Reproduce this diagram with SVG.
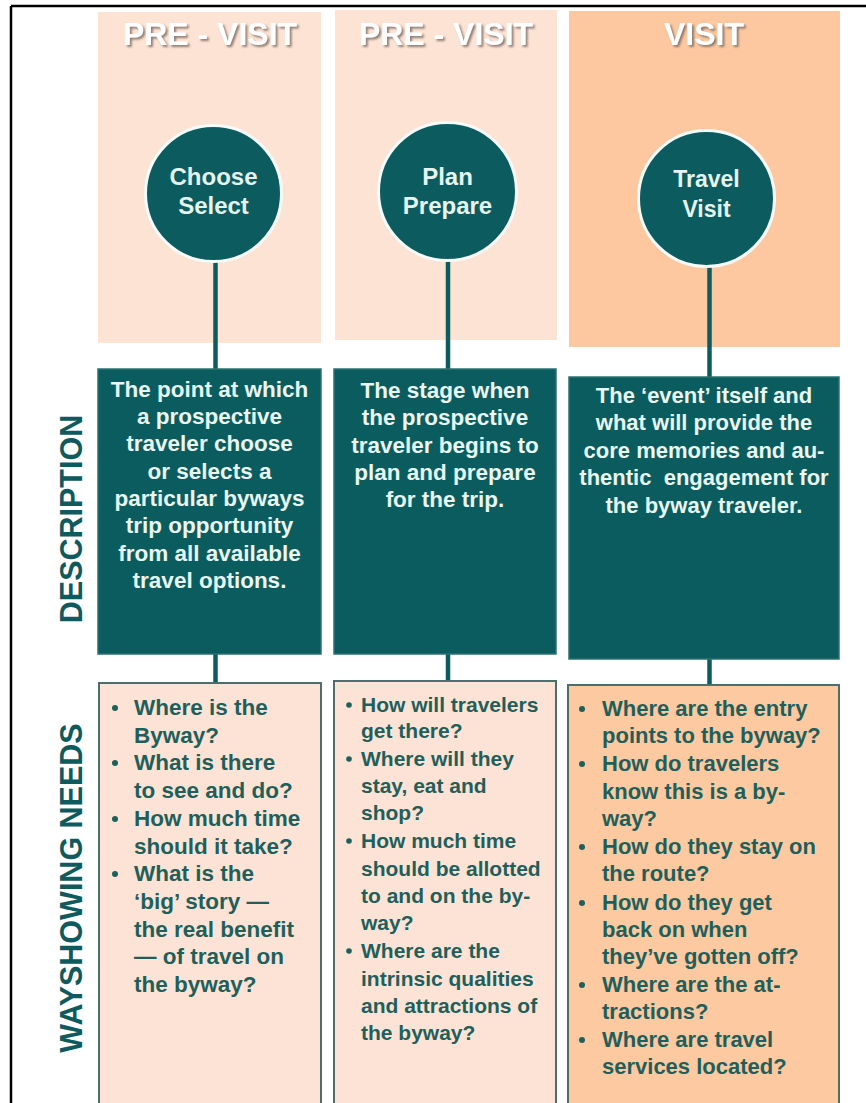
<svg xmlns="http://www.w3.org/2000/svg" width="866" height="1103" viewBox="0 0 866 1103">
<defs>
<style>
.frame{stroke:#000;stroke-width:2.5;fill:none}
.col-light{fill:#FDE3D4}
.col-dark{fill:#FDC8A0}
.hdr{font-family:"Liberation Sans",Arial,sans-serif;font-weight:bold;font-size:32px;fill:#fff;text-anchor:middle}
.circ{fill:#0C5B5E;stroke:#F4FBF8;stroke-width:3}
.ctext{font-family:"Liberation Sans",Arial,sans-serif;font-weight:bold;font-size:24px;fill:#E6F4EF;text-anchor:middle}
.desc{fill:#0B5C5F;stroke:#2C7272;stroke-width:1.5}
.dtext{font-family:"Liberation Sans",Arial,sans-serif;font-weight:bold;font-size:22.5px;fill:#E9F6F1;text-anchor:middle}
.way-light{fill:#FDE3D5;stroke:#4D6F6B;stroke-width:2}
.way-dark{fill:#FDC9A0;stroke:#4D6F6B;stroke-width:2}
.wtext{font-family:"Liberation Sans",Arial,sans-serif;font-weight:bold;fill:#1F5F5B}
.bul{fill:#1F5F5B}
.side{font-family:"Liberation Sans",Arial,sans-serif;font-weight:bold;font-size:30.5px;fill:#0F5A5C;text-anchor:middle}
.conn{stroke:#0C5B5E;stroke-width:4.5;fill:none}
</style>
<filter id="emboss" x="-10%" y="-30%" width="130%" height="180%">
<feDropShadow dx="2" dy="2" stdDeviation="1" flood-color="#7d6e66" flood-opacity="0.85"/>
</filter>
</defs>

<!-- frame -->
<g id="frame">
<line class="frame" x1="11" y1="6" x2="866" y2="6"/>
<line class="frame" x1="11" y1="6" x2="11" y2="1103"/>
</g>

<!-- stage columns -->
<g id="col-previsit-1">
<rect class="col-light" x="98" y="12" width="223" height="331"/>
<text class="hdr" x="210" y="45" filter="url(#emboss)">PRE - VISIT</text>
</g>
<g id="col-previsit-2">
<rect class="col-light" x="335" y="10" width="222" height="330"/>
<text class="hdr" x="446" y="45" filter="url(#emboss)">PRE - VISIT</text>
</g>
<g id="col-visit">
<rect class="col-dark" x="569" y="11" width="271" height="336"/>
<text class="hdr" x="704" y="45" filter="url(#emboss)">VISIT</text>
</g>

<!-- side labels -->
<g id="label-description">
<text class="side" transform="translate(82,519) rotate(-90)">DESCRIPTION</text>
</g>
<g id="label-wayshowing">
<text class="side" transform="translate(82,888) rotate(-90)">WAYSHOWING NEEDS</text>
</g>

<!-- connectors -->
<g id="connectors">
<line class="conn" x1="215.5" y1="262" x2="215.5" y2="369"/>
<line class="conn" x1="448" y1="261" x2="448" y2="369"/>
<line class="conn" x1="709.5" y1="267" x2="709.5" y2="377"/>
<line class="conn" x1="215.5" y1="654" x2="215.5" y2="683"/>
<line class="conn" x1="448" y1="654" x2="448" y2="681"/>
<line class="conn" x1="709.5" y1="659" x2="709.5" y2="685"/>
</g>

<!-- circle nodes -->
<g id="node-choose-select">
<circle class="circ" cx="213.5" cy="193.5" r="68"/>
<text class="ctext" x="213.5" y="185">Choose</text>
<text class="ctext" x="213.5" y="214">Select</text>
</g>
<g id="node-plan-prepare">
<circle class="circ" cx="447.5" cy="191.5" r="69"/>
<text class="ctext" x="447.5" y="185">Plan</text>
<text class="ctext" x="447.5" y="214">Prepare</text>
</g>
<g id="node-travel-visit">
<circle class="circ" cx="706.5" cy="198.5" r="68"/>
<text class="ctext" x="706.5" y="187" style="font-size:23px">Travel</text>
<text class="ctext" x="706.5" y="217" style="font-size:23px">Visit</text>
</g>

<!-- description boxes -->
<g id="desc-choose">
<rect class="desc" x="98" y="369" width="223" height="285"/>
<text class="dtext" x="209.5" y="397">The point at which</text>
<text class="dtext" x="209.5" y="424">a prospective</text>
<text class="dtext" x="209.5" y="451">traveler choose</text>
<text class="dtext" x="209.5" y="479">or selects a</text>
<text class="dtext" x="209.5" y="506">particular byways</text>
<text class="dtext" x="209.5" y="533">trip opportunity</text>
<text class="dtext" x="209.5" y="561">from all available</text>
<text class="dtext" x="209.5" y="588">travel options.</text>
</g>
<g id="desc-plan">
<rect class="desc" x="334" y="369" width="222" height="285"/>
<text class="dtext" x="445" y="398">The stage when</text>
<text class="dtext" x="445" y="425">the prospective</text>
<text class="dtext" x="445" y="453">traveler begins to</text>
<text class="dtext" x="445" y="480">plan and prepare</text>
<text class="dtext" x="445" y="507">for the trip.</text>
</g>
<g id="desc-travel">
<rect class="desc" x="569" y="377" width="270" height="282"/>
<text class="dtext" x="704" y="403" style="font-size:22px">The ‘event’ itself and</text>
<text class="dtext" x="704" y="430" style="font-size:22px">what will provide the</text>
<text class="dtext" x="704" y="458" style="font-size:22px">core memories and au-</text>
<text class="dtext" x="704" y="485" style="font-size:22px;white-space:pre" xml:space="preserve">thentic  engagement for</text>
<text class="dtext" x="704" y="513" style="font-size:22px">the byway traveler.</text>
</g>

<!-- wayshowing boxes -->
<g id="needs-choose">
<rect class="way-light" x="99" y="683" width="222" height="440"/>
<g class="wtext" style="font-size:22.5px">
<text x="134" y="715">Where is the</text>
<text x="134" y="743">Byway?</text>
<text x="134" y="770">What is there</text>
<text x="134" y="798">to see and do?</text>
<text x="134" y="826">How much time</text>
<text x="134" y="854">should it take?</text>
<text x="134" y="881">What is the</text>
<text x="134" y="909">‘big’ story —</text>
<text x="134" y="937">the real benefit</text>
<text x="134" y="964">— of travel on</text>
<text x="134" y="992">the byway?</text>
</g>
<circle class="bul" cx="115" cy="708" r="3"/>
<circle class="bul" cx="115" cy="763" r="3"/>
<circle class="bul" cx="115" cy="819" r="3"/>
<circle class="bul" cx="115" cy="874" r="3"/>
</g>
<g id="needs-plan">
<rect class="way-light" x="334" y="681" width="222" height="440"/>
<g class="wtext" style="font-size:21px">
<text x="361" y="712">How will travelers</text>
<text x="361" y="738">get there?</text>
<text x="361" y="766">Where will they</text>
<text x="361" y="793">stay, eat and</text>
<text x="361" y="820">shop?</text>
<text x="361" y="848">How much time</text>
<text x="361" y="876">should be allotted</text>
<text x="361" y="903">to and on the by-</text>
<text x="361" y="930">way?</text>
<text x="361" y="958">Where are the</text>
<text x="361" y="986">intrinsic qualities</text>
<text x="361" y="1013">and attractions of</text>
<text x="361" y="1040">the byway?</text>
</g>
<circle class="bul" cx="349" cy="705" r="2.8"/>
<circle class="bul" cx="349" cy="759" r="2.8"/>
<circle class="bul" cx="349" cy="841" r="2.8"/>
<circle class="bul" cx="349" cy="951" r="2.8"/>
</g>
<g id="needs-travel">
<rect class="way-dark" x="568" y="685" width="271" height="440"/>
<g class="wtext" style="font-size:22px">
<text x="602" y="716">Where are the entry</text>
<text x="602" y="743">points to the byway?</text>
<text x="602" y="771">How do travelers</text>
<text x="602" y="799">know this is a by-</text>
<text x="602" y="826">way?</text>
<text x="602" y="854">How do they stay on</text>
<text x="602" y="881">the route?</text>
<text x="602" y="910">How do they get</text>
<text x="602" y="937">back on when</text>
<text x="602" y="964">they’ve gotten off?</text>
<text x="602" y="992">Where are the at-</text>
<text x="602" y="1019">tractions?</text>
<text x="602" y="1047">Where are travel</text>
<text x="602" y="1074">services located?</text>
</g>
<circle class="bul" cx="582" cy="709" r="3"/>
<circle class="bul" cx="582" cy="764" r="3"/>
<circle class="bul" cx="582" cy="847" r="3"/>
<circle class="bul" cx="582" cy="903" r="3"/>
<circle class="bul" cx="582" cy="985" r="3"/>
<circle class="bul" cx="582" cy="1040" r="3"/>
</g>
</svg>
